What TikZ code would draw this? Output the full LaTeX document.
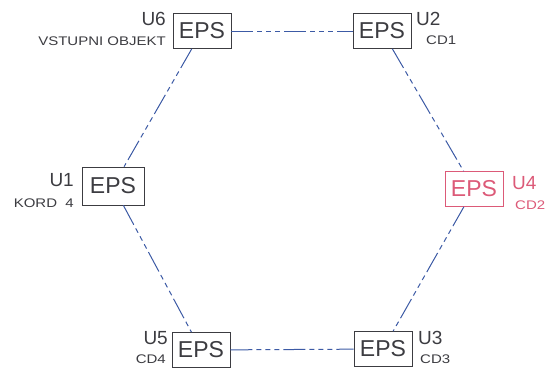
\documentclass[tikz,border=0pt]{standalone}
\usepackage{fontspec}
\setmainfont{Liberation Sans}
\newfontfamily\subfont[FakeStretch=1.2]{Liberation Sans}
\definecolor{linkblue}{RGB}{60,90,165}
\definecolor{boxgray}{RGB}{60,60,65}
\definecolor{pinkish}{RGB}{220,90,120}
\begin{document}
\begin{tikzpicture}[x=1pt,y=-1pt,
  epsbox/.style={draw=boxgray,line width=0.8pt,minimum width=58pt,minimum height=35pt,inner sep=0pt,font=\fontsize{23}{23}\selectfont,text=boxgray},
  pinkbox/.style={epsbox,draw=pinkish,text=pinkish},
  uname/.style={font=\fontsize{19}{19}\selectfont,text=boxgray,inner sep=0pt},
  sub/.style={font=\subfont\fontsize{12.5}{12.5}\selectfont,text=boxgray,inner sep=0pt},
  link/.style={draw=linkblue,line width=1pt,dash pattern=on 22pt off 4pt on 5pt off 4pt on 5pt off 4pt on 5pt off 4pt}]
\useasboundingbox (0,0) rectangle (554,376);
\node[epsbox] (u6) at (202,31) {EPS};
\node[epsbox] (u2) at (382,31) {EPS};
\node[epsbox,minimum width=62pt,minimum height=38pt] (u1) at (113,186) {EPS};
\node[pinkbox] (u4) at (474,189) {EPS};
\node[epsbox] (u5) at (201,350) {EPS};
\node[epsbox] (u3) at (383,349) {EPS};
\node[uname,anchor=east] (l6) at (166,19) {U6};
\node[sub,anchor=east] (s6) at (166,41) {VSTUPNI OBJEKT};
\node[uname,anchor=west] (l2) at (416,19) {U2};
\node[sub,anchor=west] (s2) at (426,40) {CD1};
\node[uname,anchor=east] (l1) at (74,180) {U1};
\node[sub,anchor=east] (s1) at (74,203) {KORD\ \ 4};
\node[uname,anchor=west,text=pinkish] (l4) at (512,183) {U4};
\node[sub,anchor=west,text=pinkish] (s4) at (515,205) {CD2};
\node[uname,anchor=east] (l5) at (168,338) {U5};
\node[sub,anchor=east] (s5) at (166,359) {CD4};
\node[uname,anchor=west] (l3) at (418,338) {U3};
\node[sub,anchor=west] (s3) at (420,359) {CD3};
\draw[link] (u6) -- (u2);
\draw[link] (u2) -- (u4);
\draw[link] (u4) -- (u3);
\draw[link] (u5) -- (u3);
\draw[link] (u1) -- (u5);
\draw[link] (u6) -- (u1);
\end{tikzpicture}
\end{document}
